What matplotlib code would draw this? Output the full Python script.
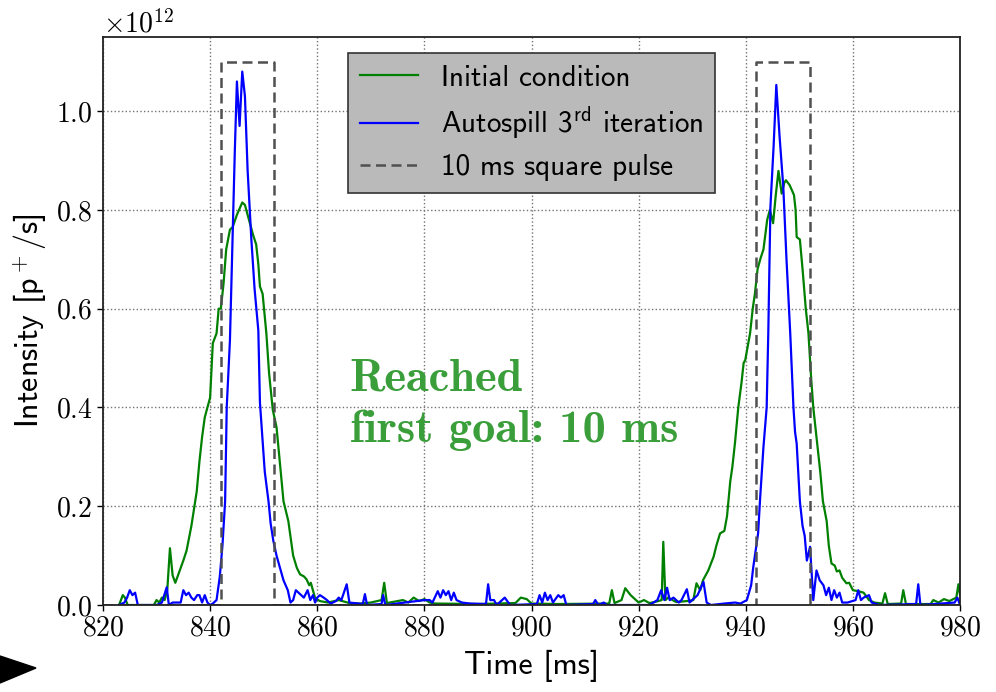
import numpy as np
import matplotlib
matplotlib.use("Agg")
import matplotlib.pyplot as plt
from matplotlib.patches import Polygon

# time [ms] and intensity [1e12 p+/s]
t_init = [823, 823.7, 824.1, 824.6, 825.5, 829.5, 830, 830.5, 831, 831.5, 832.0, 832.5, 833.0, 833.5, 834, 835,
          835.6, 836.5, 837.2, 837.5, 838, 838.5, 839, 840, 840.5, 841.2, 841.6, 842, 842.5, 843, 843.7,
          844.2, 845, 846, 846.5, 847, 847.5, 848, 848.6, 849, 849.3, 849.8, 850.5, 851, 851.7, 852.4,
          853, 853.7, 854.6, 855.5, 856.2, 856.8, 857.5, 858, 858.5, 858.8, 859.6, 860.5, 862, 864, 866,
          868, 870, 872, 872.5, 873, 876, 877, 878, 879, 880, 881, 882, 890, 897, 898, 899.1, 900, 905,
          914.5, 915, 915.5, 916.8, 917.5, 918.5, 920, 921, 922, 923, 924.3, 924.6, 925.0, 925.5, 927, 929,
          930.2, 930.8, 931.5, 932, 933, 934, 934.5, 935.2, 936, 936.5, 937.1, 937.5, 938, 938.6, 939.2,
          939.6, 939.9, 940.3, 940.8, 941.3, 941.7, 942.2, 942.7, 943.3, 944, 944.5, 945.1, 945.6, 946.1,
          946.7, 947.2, 947.5, 948.2, 949, 949.3, 949.5, 950.1, 950.6, 951.2, 951.7, 952.2, 952.6, 953.3,
          953.9, 954.4, 955.1, 955.5, 956, 956.6, 957, 957.5, 958, 958.8, 959.3, 960, 961, 962, 963, 964,
          965.5, 966, 966.5, 969, 969.4, 969.9, 974.5, 975, 976, 977, 978, 979.3, 979.7, 980]
v_init = [0, 0.02, 0.015, 0, 0, 0, 0.01, 0.005, 0.015, 0.01, 0.03, 0.115, 0.06, 0.045, 0.06, 0.09,
          0.11, 0.16, 0.21, 0.23, 0.29, 0.34, 0.38, 0.42, 0.53, 0.55, 0.60, 0.60, 0.65, 0.72, 0.76,
          0.765, 0.79, 0.815, 0.81, 0.79, 0.77, 0.75, 0.73, 0.69, 0.645, 0.63, 0.55, 0.47, 0.395, 0.36,
          0.29, 0.21, 0.17, 0.10, 0.075, 0.062, 0.058, 0.052, 0.04, 0.045, 0.014, 0.008, 0.005, 0.01, 0.004,
          0.003, 0.005, 0.01, 0.045, 0.004, 0.01, 0.005, 0.015, 0.008, 0.012, 0.005, 0.003, 0.002, 0.004, 0.015, 0.012, 0.003, 0.002,
          0.003, 0.03, 0.004, 0.01, 0.034, 0.02, 0.005, 0.01, 0.004, 0.006, 0.01, 0.128, 0.01, 0.015, 0.006, 0.008,
          0.01, 0.044, 0.03, 0.05, 0.07, 0.098, 0.12, 0.145, 0.15, 0.18, 0.25, 0.28, 0.33, 0.40, 0.45,
          0.49, 0.496, 0.52, 0.55, 0.60, 0.63, 0.68, 0.70, 0.72, 0.78, 0.80, 0.773, 0.83, 0.879,
          0.833, 0.855, 0.86, 0.85, 0.83, 0.80, 0.745, 0.74, 0.68, 0.60, 0.55, 0.46, 0.40, 0.33,
          0.27, 0.21, 0.17, 0.12, 0.084, 0.08, 0.068, 0.07, 0.055, 0.044, 0.045, 0.03, 0.028, 0.025, 0.01, 0.005,
          0.003, 0.024, 0.002, 0.003, 0.03, 0.002, 0.002, 0.01, 0.005, 0.012, 0.008, 0.015, 0.042, 0.02]

t_auto = [823, 824, 824.5, 825, 825.5, 826, 826.5, 830, 831, 831.9, 832.3, 833, 834.5, 835, 835.5, 836,
          836.5, 837, 837.6, 838, 838.5, 839, 839.5, 840, 840.5, 841.2, 841.8, 842.3, 842.8, 843.1,
          843.7, 844.2, 844.6, 845.0, 845.5, 846.0, 846.5, 847, 847.7, 848.3, 849.0, 849.3, 850.2,
          850.9, 851.3, 851.8, 852.4, 853, 853.7, 854.5, 855, 855.5, 856, 856.5, 857, 857.5, 858.2,
          858.7, 859.2, 859.6, 860, 860.5, 861.2, 861.8, 862.5, 863.5, 864, 864.5, 865.5, 866, 868.5,
          868.9, 869.3, 872, 872.3, 872.7, 880, 881, 881.5, 882.5, 883, 883.5, 884, 884.5, 885, 885.5,
          886, 887, 888.5, 891.5, 891.9, 892.3, 893, 893.5, 895, 896, 901, 901.5, 902, 902.5, 903, 903.5,
          904, 905, 905.5, 906, 906.5, 911.5, 911.9, 912.5, 913.5, 914, 922, 923.5, 924.2, 924.8,
          925.3, 925.8, 926.5, 927.5, 928, 929, 929.5, 930, 931, 932.1, 932.7, 933.5, 936, 938,
          939, 940.2, 941, 941.4, 942.3, 942.7, 943.3, 943.9, 944.2, 944.6, 945.2, 945.7, 946.3,
          947.0, 947.6, 948.3, 948.9, 949.2, 949.5, 950.1, 950.6, 951.0, 951.4, 952.0, 952.6, 953.2,
          953.8, 954.5, 955, 955.5, 956, 956.5, 957, 957.5, 958, 959, 960.5, 961, 961.5, 962, 963,
          963.5, 965, 971.8, 972.2, 972.6, 979, 979.5, 980]
v_auto = [0, 0.005, 0.015, 0.03, 0.02, 0.025, 0, 0, 0.005, 0.036, 0, 0.005, 0.005, 0.03, 0.02, 0.025,
          0.015, 0.01, 0.02, 0.02, 0.005, 0.02, 0.005, 0, 0.003, 0.01, 0.057, 0.12, 0.21, 0.40,
          0.536, 0.75, 0.915, 1.06, 0.97, 1.08, 1.03, 0.88, 0.74, 0.64, 0.556, 0.41, 0.27,
          0.21, 0.165, 0.13, 0.10, 0.077, 0.05, 0.03, 0.005, 0.01, 0.03, 0.025, 0.02, 0.015, 0.03,
          0.01, 0.02, 0.005, 0.015, 0.02, 0.015, 0.01, 0.003, 0.008, 0.015, 0.01, 0.042, 0.005, 0.002,
          0.022, 0, 0.002, 0.02, 0, 0.01, 0.01, 0.005, 0.028, 0.015, 0.03, 0.02, 0.028, 0.01, 0.025,
          0.01, 0.005, 0.003, 0.002, 0.042, 0.01, 0.01, 0, 0.015, 0, 0.002, 0.02, 0.005, 0.025, 0.01, 0.02,
          0.005, 0.02, 0.015, 0.02, 0, 0.002, 0.01, 0, 0.005, 0, 0, 0.01, 0.03, 0.01,
          0.035, 0.01, 0.015, 0.005, 0.01, 0.032, 0.005, 0.01, 0.02, 0.047, 0.005, 0, 0.003, 0.005,
          0.003, 0.01, 0.04, 0.077, 0.145, 0.22, 0.32, 0.40, 0.55, 0.806, 0.93, 1.053, 0.95,
          0.847, 0.70, 0.55, 0.40, 0.35, 0.327, 0.21, 0.16, 0.14, 0.09, 0.118, 0.01, 0.07,
          0.05, 0.04, 0.02, 0.035, 0.01, 0.03, 0.015, 0.025, 0.005, 0.005, 0.01, 0.03, 0.01, 0.015, 0.02,
          0.005, 0, 0.002, 0.042, 0, 0.005, 0.015, 0]

# 10 ms square pulses, amplitude 1.1e12
t_pulse = [820, 842, 842, 852, 852, 942, 942, 952, 952, 980]
v_pulse = [0, 0, 1.1, 1.1, 0, 0, 1.1, 1.1, 0, 0]

scale = 1e12

plt.rcParams['font.family'] = 'cmr10'
plt.rcParams['mathtext.fontset'] = 'cm'
plt.rcParams['axes.formatter.use_mathtext'] = True
plt.rcParams['axes.unicode_minus'] = False

fig = plt.figure(figsize=(9.96, 6.92), dpi=100)
ax = fig.add_axes([0.1034, 0.1257, 0.8605, 0.8208])

ax.plot(t_init, np.array(v_init) * scale, color='g', lw=1.6, label='Initial condition')
ax.plot(t_auto, np.array(v_auto) * scale, color='b', lw=1.6, label=r'Autospill 3$^{\mathsf{rd}}$ iteration')
ax.plot(t_pulse, np.array(v_pulse) * scale, color='#505050', lw=1.8, ls=(0, (4, 2.2)),
        label='10 ms square pulse')

ax.set_xlim(820, 980)
ax.set_ylim(0, 1.15e12)
ax.set_xticks(np.arange(820, 981, 20))
ax.set_yticks(np.arange(0, 1.01e12, 0.2e12))
ax.grid(True, ls=':', color='0.45', lw=1)
ax.tick_params(labelsize=20, length=4, width=1)
ax.yaxis.get_offset_text().set_fontsize(20)
for s in ax.spines.values():
    s.set_linewidth(1.3)
    s.set_color('#222222')

ax.set_xlabel('Time [ms]', fontfamily='cmss10', fontsize=23, labelpad=6)
ax.set_ylabel(r'Intensity [p$^+$/s]', fontfamily='cmss10', fontsize=23, labelpad=5)

leg = ax.legend(loc='upper left', bbox_to_anchor=(0.286, 0.972), borderaxespad=0,
                prop={'family': 'cmss10', 'size': 21}, fancybox=False, framealpha=1,
                facecolor='#bababa', edgecolor='#333333', labelspacing=0.45,
                handlelength=2.0, handletextpad=0.8, borderpad=0.4)
leg.get_frame().set_linewidth(1.2)

ax.text(0.288, 0.287, 'Reached\nfirst goal: 10 ms', transform=ax.transAxes,
        fontfamily='cmb10', fontsize=33.5, color='#3a9e3a', va='baseline', linespacing=1.3)

# slide arrow in the lower left corner
fig.patches.append(Polygon([[0, 1 - 656 / 692], [36 / 996, 1 - 668 / 692], [0, 1 - 683 / 692]],
                           closed=True, transform=fig.transFigure, color='black'))

fig.savefig('out.png', dpi=100)
